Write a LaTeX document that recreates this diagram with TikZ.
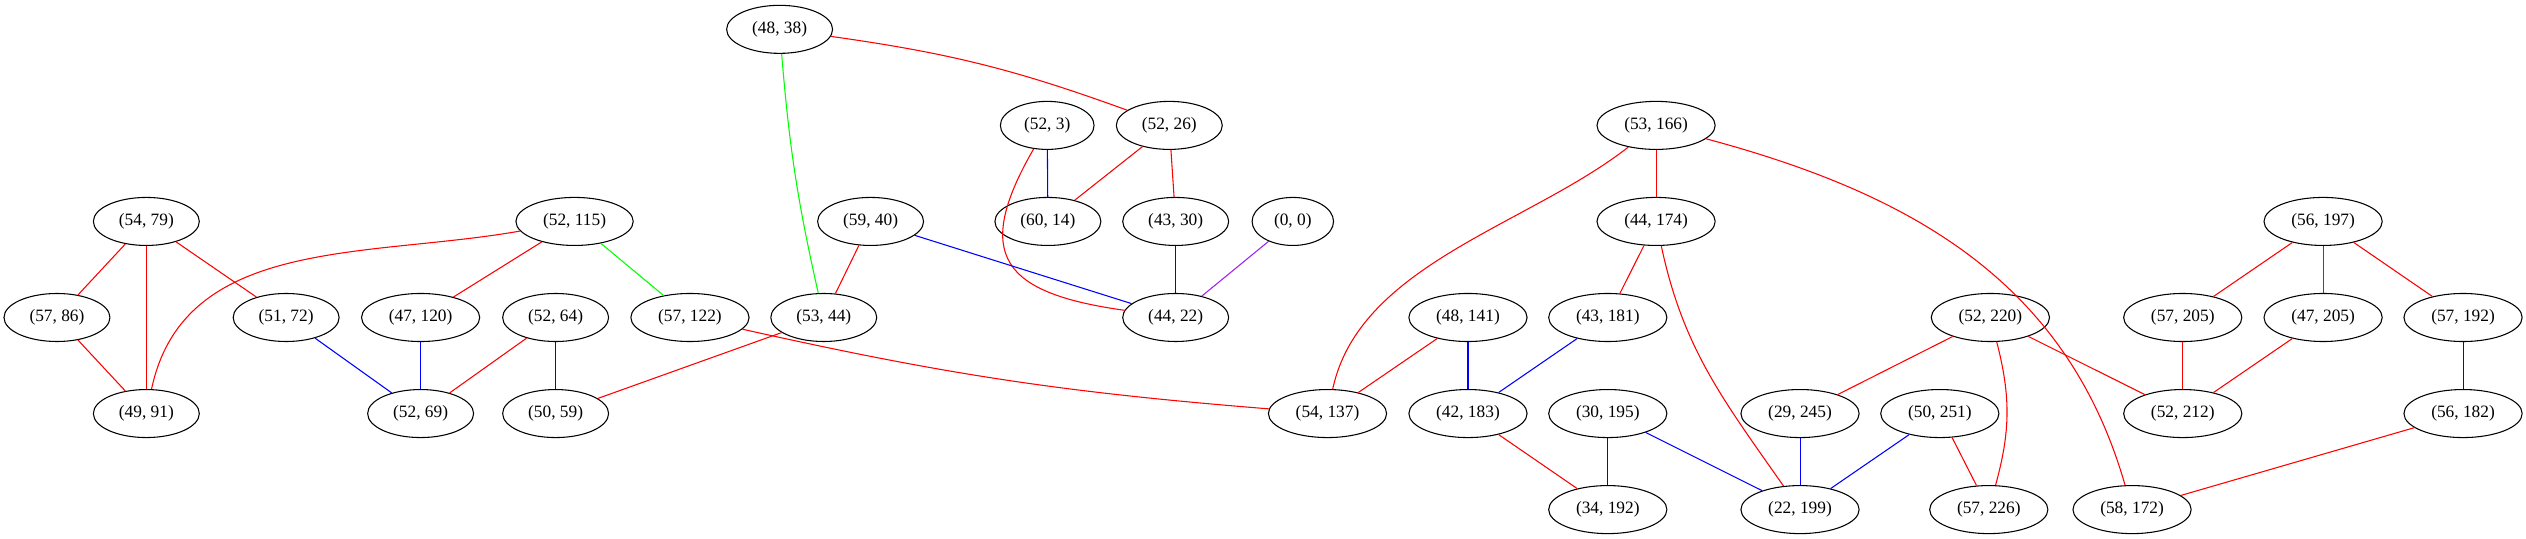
\documentclass[tikz,border=0pt]{standalone}
\usepackage{fontspec}
\setmainfont{Liberation Serif}
\usetikzlibrary{shapes.geometric}
\definecolor{gvpurple}{HTML}{A020F0}

\tikzset{
  vtx/.style={draw, ellipse, line width=0.8pt, inner xsep=7.5pt, inner ysep=2pt,
    minimum height=36pt, font=\fontsize{13}{15}\selectfont},
  edg/.style={line width=0.8pt}
}

\begin{document}
\begin{tikzpicture}[x=1pt,y=1pt]
	\useasboundingbox (0,0) rectangle (1893.5,404);
	% rows of the layout
	\node[vtx] (n48x38)  at (584.4,382) {(48, 38)};
	\node[vtx] (n52x3)   at (785.0,310) {(52, 3)};
	\node[vtx] (n52x26)  at (876.5,310) {(52, 26)};
	\node[vtx] (n53x166) at (1241.4,310) {(53, 166)};
	
	\node[vtx] (n54x79)  at (109.7,238) {(54, 79)};
	\node[vtx] (n52x115) at (430.7,238) {(52, 115)};
	\node[vtx] (n59x40)  at (652.6,238) {(59, 40)};
	\node[vtx] (n60x14)  at (785.5,238) {(60, 14)};
	\node[vtx] (n43x30)  at (881.3,238) {(43, 30)};
	\node[vtx] (n0x0)    at (969.1,238) {(0, 0)};
	\node[vtx] (n44x174) at (1241.4,238) {(44, 174)};
	\node[vtx] (n56x197) at (1741.4,238) {(56, 197)};
	
	\node[vtx] (n57x86)  at (42.7,166) {(57, 86)};
	\node[vtx] (n51x72)  at (214.5,166) {(51, 72)};
	\node[vtx] (n47x120) at (315.3,166) {(47, 120)};
	\node[vtx] (n52x64)  at (416.5,166) {(52, 64)};
	\node[vtx] (n57x122) at (517.2,166) {(57, 122)};
	\node[vtx] (n53x44)  at (617.5,166) {(53, 44)};
	\node[vtx] (n44x22)  at (881.3,166) {(44, 22)};
	\node[vtx] (n48x141) at (1100.4,166) {(48, 141)};
	\node[vtx] (n43x181) at (1205.2,166) {(43, 181)};
	\node[vtx] (n52x220) at (1492.0,166) {(52, 220)};
	\node[vtx] (n57x205) at (1636.2,166) {(57, 205)};
	\node[vtx] (n47x205) at (1741.4,166) {(47, 205)};
	\node[vtx] (n57x192) at (1846.3,166) {(57, 192)};
	
	\node[vtx] (n49x91)  at (109.7,94) {(49, 91)};
	\node[vtx] (n52x69)  at (315.3,94) {(52, 69)};
	\node[vtx] (n50x59)  at (416.5,94) {(50, 59)};
	\node[vtx] (n54x137) at (995.1,94) {(54, 137)};
	\node[vtx] (n42x183) at (1100.4,94) {(42, 183)};
	\node[vtx] (n30x195) at (1205.2,94) {(30, 195)};
	\node[vtx] (n29x245) at (1349.3,94) {(29, 245)};
	\node[vtx] (n50x251) at (1454.1,94) {(50, 251)};
	\node[vtx] (n52x212) at (1636.2,94) {(52, 212)};
	\node[vtx] (n56x182) at (1846.3,94) {(56, 182)};
	
	\node[vtx] (n34x192) at (1205.2,22) {(34, 192)};
	\node[vtx] (n22x199) at (1349.3,22) {(22, 199)};
	\node[vtx] (n57x226) at (1490.8,22) {(57, 226)};
	\node[vtx] (n58x172) at (1598.2,22) {(58, 172)};
	
	% red edges
	\draw[edg,red] (n48x38) to[bend left=6] (n52x26);
	\draw[edg,red] (n52x3) to[out=240,in=172,looseness=1.7] (n44x22);
	\draw[edg,red] (n52x26) -- (n60x14);
	\draw[edg,red] (n52x26) -- (n43x30);
	\draw[edg,red] (n59x40) -- (n53x44);
	\draw[edg,red] (n53x44) -- (n50x59);
	\draw[edg,red] (n54x79) -- (n57x86);
	\draw[edg,red] (n54x79) -- (n49x91);
	\draw[edg,red] (n54x79) -- (n51x72);
	\draw[edg,red] (n57x86) -- (n49x91);
	\draw[edg,red] (n52x115) to[out=190,in=78] (n49x91);
	\draw[edg,red] (n52x115) -- (n47x120);
	\draw[edg,red] (n52x64) -- (n52x69);
	\draw[edg,red] (n57x122) to[bend right=4] (n54x137);
	\draw[edg,red] (n53x166) -- (n44x174);
	\draw[edg,red] (n53x166) to[out=218,in=78,looseness=0.85] (n54x137);
	\draw[edg,red] (n53x166) to[out=-15,in=106] (n58x172);
	\draw[edg,red] (n44x174) -- (n43x181);
	\draw[edg,red] (n44x174) to[out=-78,in=125] (n22x199);
	\draw[edg,red] (n48x141) -- (n54x137);
	\draw[edg,red] (n42x183) -- (n34x192);
	\draw[edg,red] (n52x220) -- (n29x245);
	\draw[edg,red] (n52x220) to[bend left=15] (n57x226);
	\draw[edg,red] (n52x220) -- (n52x212);
	\draw[edg,red] (n50x251) -- (n57x226);
	\draw[edg,red] (n56x197) -- (n57x205);
	\draw[edg,red] (n56x197) -- (n47x205);
	\draw[edg,red] (n56x197) -- (n57x192);
	\draw[edg,red] (n57x205) -- (n52x212);
	\draw[edg,red] (n47x205) -- (n52x212);
	\draw[edg,red] (n56x182) -- (n58x172);
	
	% blue edges
	\draw[edg,blue] (n52x3) -- (n60x14);
	\draw[edg,blue] (n43x30) -- (n44x22);
	\draw[edg,blue] (n59x40) -- (n44x22);
	\draw[edg,blue] (n51x72) -- (n52x69);
	\draw[edg,blue] (n47x120) -- (n52x69);
	\draw[edg,blue] (n52x64) -- (n50x59);
	\draw[edg,blue] (n48x141) -- (n42x183);
	\draw[edg,blue] (n43x181) -- (n42x183);
	\draw[edg,blue] (n30x195) -- (n34x192);
	\draw[edg,blue] (n30x195) -- (n22x199);
	\draw[edg,blue] (n29x245) -- (n22x199);
	\draw[edg,blue] (n50x251) -- (n22x199);
	\draw[edg,blue] (n57x192) -- (n56x182);
	
	% green and purple edges
	\draw[edg,green] (n48x38) to[bend right=4] (n53x44);
	\draw[edg,green] (n52x115) -- (n57x122);
	\draw[edg,gvpurple] (n0x0) -- (n44x22);
\end{tikzpicture}
\end{document}
